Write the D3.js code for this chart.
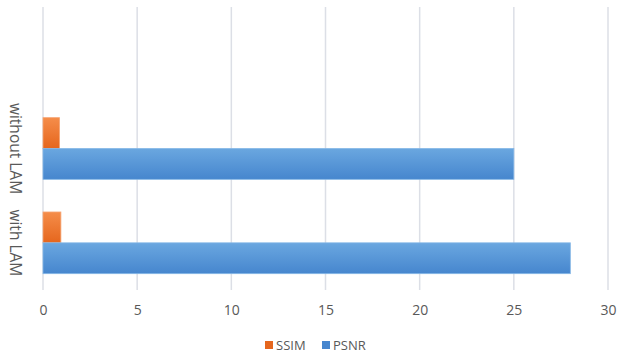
<!DOCTYPE html>
<html>
<head>
<meta charset="utf-8">
<script src="https://cdn.jsdelivr.net/npm/d3@7/dist/d3.min.js"></script>
<style>
  html, body { margin: 0; padding: 0; background: #fff; }
  svg { display: block; font-family: "Open Sans", "Liberation Sans", sans-serif; }
</style>
</head>
<body>
<svg id="chart" width="617" height="356"></svg>
<script>
// Categories listed bottom to top, as in a horizontal bar chart
const categories = ["with LAM", "without LAM"];
const seriesNames = ["SSIM", "PSNR"];
const ssimValues = [0.95, 0.88];
const psnrValues = [28, 25];
const xTicks = [0, 5, 10, 15, 20, 25, 30];

const colors = { SSIM: ["#F58D4A", "#E5661D"], PSNR: ["#6AA7E0", "#4686CE"] };
const borders = { SSIM: "#F6A574", PSNR: "#86B7E6" };

const svg = d3.select("#chart");
const plot = { left: 43, right: 608, top: 7, bottom: 290 };

const x = d3.scaleLinear().domain([0, 30]).range([plot.left, plot.right]);

// three equal slots; the top slot stays empty
const slot = (plot.bottom - plot.top) / 3;
const y = d3.scaleBand()
  .domain(categories)
  .range([plot.bottom, plot.bottom - 2 * slot]);

// within a category: SSIM above PSNR, with a gap around the pair
const barH = slot * 0.327;
const inner = d3.scaleBand()
  .domain(seriesNames)
  .range([0, y.bandwidth()])
  .paddingOuter(((y.bandwidth() - 2 * barH) / 2) / barH);

const defs = svg.append("defs");
seriesNames.forEach(s => {
  const g = defs.append("linearGradient").attr("id", "grad-" + s)
    .attr("x1", 0).attr("y1", 0).attr("x2", 0).attr("y2", 1);
  g.append("stop").attr("offset", "0%").attr("stop-color", colors[s][0]);
  g.append("stop").attr("offset", "100%").attr("stop-color", colors[s][1]);
});

// vertical gridlines
svg.append("g").selectAll("line").data(xTicks).join("line")
  .attr("x1", d => x(d)).attr("x2", d => x(d))
  .attr("y1", plot.top).attr("y2", plot.bottom)
  .attr("stroke", "#DCDFE6").attr("stroke-width", 1.5);

const rows = categories.map((c, i) => ({ cat: c, SSIM: ssimValues[i], PSNR: psnrValues[i] }));

const groups = svg.append("g").selectAll("g").data(rows).join("g")
  .attr("transform", d => `translate(0,${y(d.cat)})`);

groups.selectAll("rect").data(d => seriesNames.map(s => ({ s, v: d[s] }))).join("rect")
  .attr("x", x(0))
  .attr("y", d => inner(d.s))
  .attr("width", d => x(d.v) - x(0))
  .attr("height", inner.bandwidth())
  .attr("fill", d => `url(#grad-${d.s})`)
  .attr("stroke", d => borders[d.s])
  .attr("stroke-width", 0.8);

// x tick labels
const xAxis = d3.axisBottom(x).tickValues(xTicks).tickSize(0).tickPadding(0);
const xg = svg.append("g").attr("transform", `translate(0,${plot.bottom + 15})`).call(xAxis);
xg.select(".domain").remove();
xg.selectAll("text").attr("fill", "#595959").attr("font-size", 14)
  .attr("font-family", "'Open Sans', sans-serif").attr("dy", "0.71em");

// rotated category labels
svg.append("g").selectAll("text").data(categories).join("text")
  .attr("transform", d => `translate(10,${y(d) + y.bandwidth() / 2}) rotate(90)`)
  .attr("text-anchor", "middle")
  .attr("fill", "#595959").attr("font-size", 15.5)
  .text(d => d);

// legend
const legend = svg.append("g").attr("transform", "translate(265,345)");
const legendItems = [{ s: "SSIM", x: 0 }, { s: "PSNR", x: 57 }];
legendItems.forEach(it => {
  const g = legend.append("g").attr("transform", `translate(${it.x},0)`);
  g.append("rect").attr("x", 0).attr("y", -4).attr("width", 8).attr("height", 8)
    .attr("fill", colors[it.s][1]);
  g.append("text").attr("x", 11).attr("y", 0).attr("dy", "0.35em")
    .attr("fill", "#595959").attr("font-size", 13).text(it.s);
});
</script>
</body>
</html>
